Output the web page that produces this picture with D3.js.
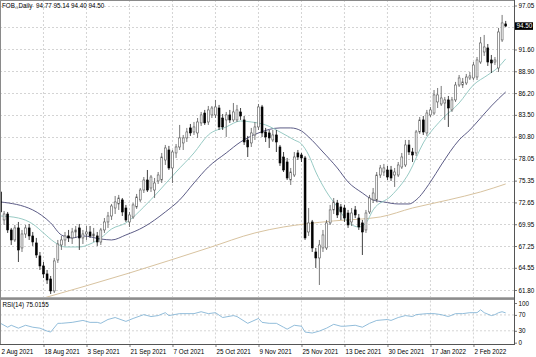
<!DOCTYPE html>
<html><head><meta charset="utf-8">
<script src="https://cdn.jsdelivr.net/npm/d3@7"></script>
<style>
body{margin:0;background:#fff}
svg{display:block}
text{font-family:"Liberation Sans",Arial,sans-serif;font-size:6.3px;fill:#000}
</style></head>
<body><svg id="c" width="536" height="357"></svg>
<script>
// ---------- data ----------
const symbolTitle = "FOB,,Daily";
const dateLabels = ["2 Aug 2021","18 Aug 2021","3 Sep 2021","21 Sep 2021","7 Oct 2021","25 Oct 2021","9 Nov 2021","25 Nov 2021","13 Dec 2021","30 Dec 2021","17 Jan 2022","2 Feb 2022"];
const dateLabelIdx = [0,12,24,36,48,60,72,84,96,108,120,132];
const priceTicks = [97.05,94.33,91.60,88.90,86.20,83.50,80.80,78.05,75.35,72.65,69.95,67.25,64.55,61.80];
const hiddenPriceTick = 94.33; // its label sits under the last-price tag
const rsiTicks = [100,70,30,0];

const openP = [73.95,70.48,71.22,69.24,68.00,69.49,67.01,68.74,69.49,68.50,
 67.63,66.02,64.78,63.79,63.17,61.68,65.52,67.38,68.00,68.50,
 68.25,68.99,69.49,68.25,68.74,68.99,68.50,68.50,67.75,69.24,
 70.23,70.97,71.96,72.46,72.96,71.96,70.23,70.85,72.09,72.96,
 74.19,75.43,74.44,74.19,75.31,75.43,77.91,79.15,76.92,78.78,
 79.52,80.02,80.64,81.88,81.38,81.26,82.50,83.73,82.62,83.49,
 83.49,84.35,83.11,82.87,83.49,82.87,82.87,83.86,82.87,80.39,
 80.02,81.01,82.00,84.48,81.38,81.26,80.39,81.01,79.52,78.28,
 77.66,75.43,76.05,78.78,78.53,78.16,68.99,70.23,66.51,65.77,
 67.01,67.01,70.11,71.72,72.58,72.09,71.96,71.34,70.23,71.72,
 70.72,70.11,69.24,71.47,72.96,72.96,76.05,76.42,76.67,76.67,
 76.05,76.05,77.04,77.29,79.77,78.90,78.78,81.38,82.87,81.26,
 83.49,83.73,85.10,84.85,84.97,85.35,84.11,85.35,87.20,87.20,
 87.45,88.07,88.07,88.19,90.05,91.29,91.79,90.30,90.05,89.31,
 92.78,94.77];
const highP = [74.44,71.59,71.47,69.49,69.86,70.23,69.24,69.86,69.98,68.99,
 68.25,66.51,65.27,64.28,63.54,65.77,68.00,68.50,68.99,69.24,
 69.49,69.73,69.98,69.24,69.73,69.73,69.49,68.99,69.49,70.72,
 71.47,72.46,73.45,73.58,73.20,72.34,71.47,72.58,73.70,74.44,
 75.80,76.67,76.05,75.68,76.42,78.78,79.77,79.65,79.15,79.89,
 82.25,81.01,81.88,82.37,82.62,83.11,83.86,84.11,84.60,84.60,
 85.35,84.73,83.61,83.86,84.11,84.97,84.73,84.35,83.36,80.89,
 81.88,82.62,84.85,84.73,81.88,81.63,81.63,81.63,79.77,78.90,
 78.16,76.92,78.90,79.15,78.78,78.41,71.96,70.48,67.01,68.00,
 69.24,70.48,72.34,73.20,72.96,72.46,72.34,71.72,71.96,72.21,
 71.22,70.48,71.72,73.58,74.44,76.42,77.29,77.42,77.17,77.17,
 76.92,77.66,78.78,80.39,80.39,79.40,81.63,83.24,83.36,84.11,
 84.48,86.58,86.83,87.08,85.72,85.84,85.72,87.58,88.44,88.07,
 88.57,88.81,90.05,90.67,93.15,93.40,92.28,90.92,90.67,94.27,
 95.88,95.14];
const lowP = [71.22,69.86,68.87,67.38,67.75,65.27,66.51,68.25,68.00,67.26,
 65.77,64.28,63.29,62.55,61.31,61.43,65.15,66.76,67.26,67.75,
 67.50,68.25,66.76,67.50,68.00,68.25,67.75,67.26,67.38,68.87,
 69.49,70.48,71.22,71.72,70.97,70.23,69.61,70.60,71.84,72.71,
 73.82,73.95,73.95,73.20,74.94,75.06,77.29,76.67,75.06,78.16,
 79.15,79.15,80.14,80.89,81.01,80.64,82.12,82.25,82.25,83.11,
 83.11,81.63,81.63,80.76,82.50,82.62,82.62,82.87,79.77,78.28,
 79.52,80.39,81.63,80.76,80.14,79.40,80.14,78.90,77.17,76.42,
 75.43,74.81,75.80,77.91,77.66,68.00,68.50,66.51,64.53,62.42,
 66.51,66.76,69.86,71.22,70.72,70.48,70.23,69.49,69.73,70.72,
 69.24,66.14,68.87,71.22,72.58,72.71,75.68,75.93,75.43,75.31,
 74.57,75.80,76.80,77.04,78.53,77.66,78.41,81.13,81.01,80.89,
 83.24,83.49,84.35,84.60,82.87,82.00,83.86,85.10,86.96,86.83,
 87.20,87.82,87.82,87.82,89.81,90.80,89.56,88.69,89.68,88.81,
 92.53,94.40];
const closeP = [71.47,71.22,69.24,68.00,69.49,66.76,68.74,69.49,68.50,67.75,
 66.14,64.78,63.79,63.04,61.68,65.40,67.50,68.00,68.50,68.25,
 68.99,69.24,68.25,68.74,68.99,68.50,68.74,67.75,69.24,70.23,
 70.97,72.21,72.71,73.20,71.47,70.48,71.10,72.34,73.33,74.19,
 75.43,74.19,75.80,75.06,76.05,78.28,79.40,76.92,78.90,79.52,
 80.64,80.64,81.38,81.26,82.00,82.62,83.49,82.50,84.11,84.35,
 84.48,82.00,82.00,83.49,82.87,83.86,84.11,83.36,80.14,79.52,
 81.26,82.00,84.48,81.26,80.76,80.64,81.01,80.14,77.54,76.67,
 75.68,76.42,78.28,78.28,78.16,68.25,70.11,67.01,65.77,67.38,
 68.62,70.11,71.72,72.71,71.10,71.47,70.72,69.86,71.34,71.10,
 69.61,68.99,71.34,73.20,73.82,76.05,76.92,76.92,75.80,75.68,
 76.42,77.29,78.28,79.77,78.90,78.53,81.38,82.87,81.38,83.73,
 84.11,85.97,85.97,85.59,85.35,84.35,85.35,87.20,88.07,87.58,
 88.19,88.32,89.68,90.30,92.41,91.91,90.05,89.93,90.30,93.77,
 94.89,94.50];

// moving averages (read at sample bars)
const fastMaIdx = [0,5,9,12,15,18,22,25,28,31,35,40,44,49,54,58,63,67,70,74,78,82,84,86,88,91,94,97,100,102,104,109,114,118,123,128,132,136,139,141];
const fastMaVal = [70.97,70.72,69.98,68.87,67.75,67.13,67.13,67.50,68.25,69.36,70.11,72.09,73.95,76.42,78.78,81.01,82.00,82.74,82.62,82.25,81.38,80.39,79.89,78.53,76.42,73.95,72.09,70.23,69.61,70.11,71.72,73.45,76.30,80.02,82.87,84.97,87.20,88.44,89.43,90.43];
const slowMaIdx = [0,9,14,17,20,23,28,31,35,40,46,50,54,58,63,67,72,78,81,84,86,90,94,97,101,104,107,111,114,116,120,123,128,131,134,137,141];
const slowMaVal = [72.71,71.72,70.11,68.62,68.25,68.50,68.12,68.00,68.62,69.61,71.47,72.96,75.06,77.04,78.78,80.14,81.26,81.88,81.88,81.50,80.76,78.90,76.92,75.19,73.82,72.96,72.71,72.46,72.46,72.96,75.19,77.29,80.39,81.63,83.11,84.60,86.34];
const longMaIdx = [12,36,58,71,79,85,93,106,115,125,134,141];
const longMaVal = [60.80,63.91,67.01,68.87,69.61,69.98,70.36,70.85,71.96,72.96,73.95,74.94];

// RSI(14)
const rsiIdx = [0,2,3,5,7,9,11,13,14,16,17,20,23,25,27,28,30,32,35,37,40,42,44,46,47,50,54,56,58,60,62,65,66,69,72,73,75,77,79,80,82,84,85,87,89,91,93,95,96,99,101,103,105,108,109,111,113,115,116,119,121,123,125,127,129,131,133,134,135,137,138,139,140,141];
const rsiVal = [48.8,39.0,43.9,36.6,43.9,39.0,36.6,29.3,26.8,48.8,48.8,51.2,56.1,51.2,51.2,48.8,58.5,63.4,53.7,61.0,70.7,65.9,68.3,75.6,68.3,73.2,73.2,78.0,73.2,75.6,63.4,68.3,65.9,48.8,61.0,51.2,48.8,48.8,39.0,34.1,43.9,41.5,26.8,24.4,29.3,36.6,46.3,41.5,41.5,43.9,39.0,48.8,56.1,58.5,56.1,63.4,68.3,65.9,70.7,73.2,73.2,70.7,65.9,73.2,73.2,75.6,75.6,82.9,75.6,68.3,70.7,75.6,78.0,75.0155];

// ---------- layout ----------
const svg = d3.select("#c");
const axisX = 514.5, mainBottom = 297, rsiTop = 300.5, rsiBottom = 344.5;
const N = closeP.length;
const x = d3.scaleLinear().domain([0, N - 1]).range([0.5, 505.7]);
const y = d3.scaleLinear().domain([61.80, 97.05]).range([290, 5.5]);
const yr = d3.scaleLinear().domain([0, 100]).range([342.7, 303]);

const defs = svg.append("defs");
defs.append("clipPath").attr("id","mainClip").append("rect").attr("x",0).attr("y",0).attr("width",axisX).attr("height",mainBottom);
defs.append("clipPath").attr("id","rsiClip").append("rect").attr("x",0).attr("y",rsiTop).attr("width",axisX).attr("height",rsiBottom-rsiTop);

// grid
const gridColor = "#c9c9c9";
const grid = svg.append("g").attr("stroke", gridColor).attr("stroke-width", 0.8).attr("stroke-dasharray", "2,2");
grid.selectAll("line.h").data(priceTicks).join("line")
  .attr("x1", 0).attr("x2", axisX).attr("y1", d => Math.round(y(d)) + 0.5).attr("y2", d => Math.round(y(d)) + 0.5);
grid.selectAll("line.v").data(dateLabelIdx.slice(1)).join("line")
  .attr("x1", d => x(d)).attr("x2", d => x(d)).attr("y1", 0).attr("y2", mainBottom);
grid.selectAll("line.v2").data(dateLabelIdx.slice(1)).join("line")
  .attr("x1", d => x(d)).attr("x2", d => x(d)).attr("y1", rsiTop).attr("y2", rsiBottom);
grid.selectAll("line.r").data([70, 30]).join("line")
  .attr("x1", 0).attr("x2", axisX).attr("y1", d => yr(d)).attr("y2", d => yr(d));

// moving averages
const main = svg.append("g").attr("clip-path", "url(#mainClip)");
const lineGen = d3.line().x(d => x(d[0])).y(d => y(d[1])).curve(d3.curveMonotoneX);
const zip = (a, b) => a.map((v, i) => [v, b[i]]);
main.append("path").datum(zip(longMaIdx, longMaVal)).attr("d", lineGen)
  .attr("fill", "none").attr("stroke", "#d8c3a0").attr("stroke-width", 1);
main.append("path").datum(zip(slowMaIdx, slowMaVal)).attr("d", lineGen)
  .attr("fill", "none").attr("stroke", "#4a4a78").attr("stroke-width", 0.9);
main.append("path").datum(zip(fastMaIdx, fastMaVal)).attr("d", lineGen)
  .attr("fill", "none").attr("stroke", "#8cc4bd").attr("stroke-width", 0.9);

// candles
const bars = d3.range(N).map(i => ({i, o: openP[i], h: highP[i], l: lowP[i], c: closeP[i]}));
const cg = main.append("g");
cg.selectAll("line.wick").data(bars).join("line")
  .attr("x1", d => x(d.i)).attr("x2", d => x(d.i))
  .attr("y1", d => y(d.h)).attr("y2", d => y(d.l))
  .attr("stroke", d => d.c >= d.o ? "#555" : "#111").attr("stroke-width", 0.8);
cg.selectAll("rect.body").data(bars).join("rect")
  .attr("x", d => x(d.i) - 0.95).attr("width", 1.9)
  .attr("y", d => y(Math.max(d.o, d.c)))
  .attr("height", d => Math.max(0.7, Math.abs(y(d.o) - y(d.c))))
  .attr("fill", d => d.c >= d.o ? "#fff" : "#000")
  .attr("stroke", d => d.c >= d.o ? "#555" : "#000").attr("stroke-width", 0.6);

// RSI line
const rsiLine = d3.line().x(d => x(d[0])).y(d => yr(d[1]));
svg.append("g").attr("clip-path", "url(#rsiClip)").append("path")
  .datum(zip(rsiIdx, rsiVal)).attr("d", rsiLine)
  .attr("fill", "none").attr("stroke", "#86b6d6").attr("stroke-width", 0.9);

// frame
const frame = svg.append("g").attr("stroke", "#8a8a8a").attr("fill", "none");
frame.append("line").attr("x1", 0).attr("x2", axisX).attr("y1", 0.5).attr("y2", 0.5);
frame.append("line").attr("x1", 0.5).attr("x2", 0.5).attr("y1", 0).attr("y2", rsiBottom);
svg.append("rect").attr("x", 0).attr("y", mainBottom + 0.3).attr("width", axisX).attr("height", 2.6).attr("fill", "#8c8c8c");
svg.append("line").attr("x1", 0).attr("x2", axisX + 0.5).attr("y1", rsiBottom).attr("y2", rsiBottom).attr("stroke", "#555");
svg.append("line").attr("x1", axisX).attr("x2", axisX).attr("y1", 0).attr("y2", rsiBottom + 0.5).attr("stroke", "#555");

// axes
const fmt = d3.format(".2f");
const ax = svg.append("g").attr("transform", `translate(${axisX},0)`)
  .call(d3.axisRight(y).tickValues(priceTicks).tickSize(2.5).tickPadding(1.5)
    .tickFormat(d => d === hiddenPriceTick ? "" : fmt(d)));
const axR = svg.append("g").attr("transform", `translate(${axisX},0)`)
  .call(d3.axisRight(yr).tickValues(rsiTicks).tickSize(2.5).tickPadding(1.5));
const axB = svg.append("g").attr("transform", `translate(0,${rsiBottom})`)
  .call(d3.axisBottom(x).tickValues(dateLabelIdx).tickSize(2.5).tickFormat((d, i) => dateLabels[i]));
[ax, axR, axB].forEach(g => {
  g.select(".domain").remove();
  g.selectAll(".tick line").attr("stroke", "#555").attr("stroke-width", 0.8);
  g.selectAll("text").attr("font-size", null).attr("font-family", null).style("fill", "#000");
});
axB.selectAll(".tick text").attr("text-anchor", "start").attr("dx", "0.5").attr("dy", "0.6em");
axB.selectAll(".tick line").filter((d, i) => i === 0).remove();

// last price tag
const lastC = closeP[N - 1];
const tagY = y(lastC);
svg.append("rect").attr("x", axisX + 0.5).attr("y", tagY - 3.8).attr("width", 18).attr("height", 7.6).attr("fill", "#000");
svg.append("text").attr("x", axisX + 2).attr("y", tagY + 2.2).text(fmt(lastC)).style("fill", "#fff");

// header texts
const hdr = `${symbolTitle}  ${fmt(openP[N-1])} ${fmt(highP[N-1])} ${fmt(lowP[N-1])} ${fmt(lastC)}`;
svg.append("text").attr("x", 2).attr("y", 7.5).style("white-space", "pre").text(hdr);
svg.append("text").attr("x", 2.5).attr("y", 306.5).text(`RSI(14) ${rsiVal[rsiVal.length - 1].toFixed(4)}`);
</script>
</body></html>
